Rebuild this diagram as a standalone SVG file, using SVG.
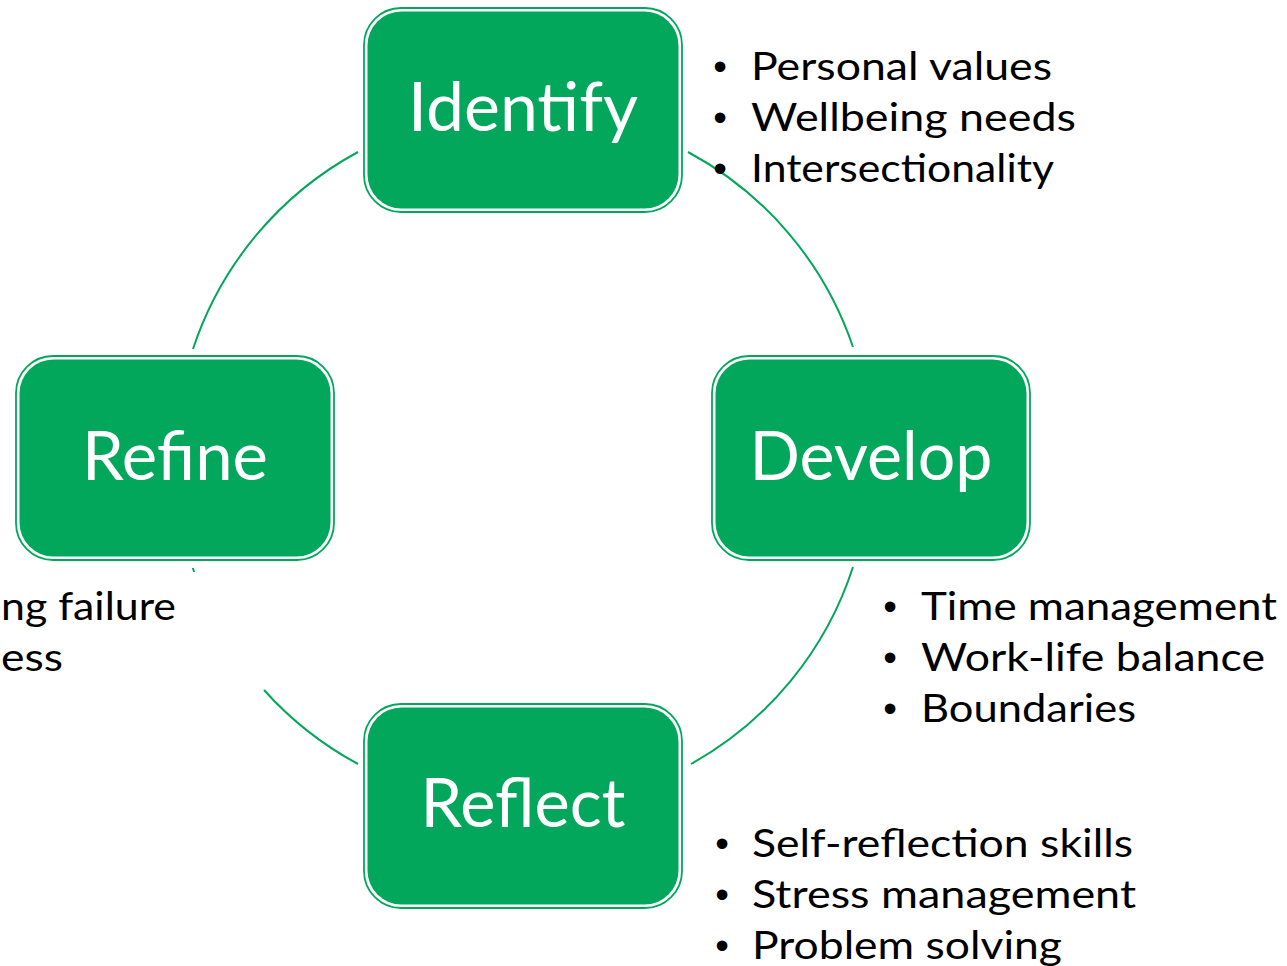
<svg xmlns="http://www.w3.org/2000/svg" width="1287" height="966" viewBox="0 0 1287 966">
<style>
.outer{fill:#ffffff;stroke:#03A75B;stroke-width:1.8}
.inner{fill:#03A75B}
.lbl{font-family:Lato,"Liberation Sans",sans-serif;font-size:68px;fill:#ffffff;text-anchor:middle}
.bt{font-family:Lato,"Noto Sans","Liberation Sans",sans-serif;font-size:39px;fill:#000000}
.bu{font-family:"Liberation Sans",sans-serif;font-size:39px;fill:#000000;text-anchor:middle}
.arc{fill:none;stroke:#03A75B;stroke-width:2}
</style>
<rect width="1287" height="966" fill="#ffffff"/>
<g id="connectors">
<path class="arc" d="M688,152 A348,348 0 0 1 853,347"/>
<path class="arc" d="M853,567 A348,348 0 0 1 691,764"/>
<path class="arc" d="M358,764 A348,348 0 0 1 264,690"/>
<path class="arc" d="M194.2,572 A348,348 0 0 1 192.8,568"/>
<path class="arc" d="M193,349 A348,348 0 0 1 358,152"/>
</g>
<g id="identify">
<rect class="outer" x="364" y="8" width="318" height="204" rx="37"/>
<rect class="inner" x="367.5" y="11.5" width="311" height="197" rx="34"/>
<text class="lbl" x="523" y="131" textLength="230" lengthAdjust="spacingAndGlyphs">Identify</text>
</g>
<g id="develop">
<rect class="outer" x="712" y="356" width="318" height="204" rx="37"/>
<rect class="inner" x="715.5" y="359.5" width="311" height="197" rx="34"/>
<text class="lbl" x="871" y="480" textLength="243" lengthAdjust="spacingAndGlyphs">Develop</text>
</g>
<g id="reflect">
<rect class="outer" x="364" y="704" width="318" height="204" rx="37"/>
<rect class="inner" x="367.5" y="707.5" width="311" height="197" rx="34"/>
<text class="lbl" x="523" y="827" textLength="205" lengthAdjust="spacingAndGlyphs">Reflect</text>
</g>
<g id="refine">
<rect class="outer" x="16" y="356" width="318" height="204" rx="37"/>
<rect class="inner" x="19.5" y="359.5" width="311" height="197" rx="34"/>
<text class="lbl" x="175" y="480" textLength="186" lengthAdjust="spacingAndGlyphs">Refine</text>
</g>
<g id="identify-notes">
<text class="bu" x="720" y="80">•</text>
<text class="bu" x="720" y="131">•</text>
<text class="bu" x="720" y="182">•</text>
<text class="bt" x="751" y="80" textLength="301" lengthAdjust="spacingAndGlyphs">Personal values</text>
<text class="bt" x="751" y="131" textLength="325" lengthAdjust="spacingAndGlyphs">Wellbeing needs</text>
<text class="bt" x="751" y="182" textLength="303" lengthAdjust="spacingAndGlyphs">Intersectionality</text>
</g>
<g id="develop-notes">
<text class="bu" x="890" y="620">•</text>
<text class="bu" x="890" y="671">•</text>
<text class="bu" x="890" y="722">•</text>
<text class="bt" x="921" y="620" textLength="356" lengthAdjust="spacingAndGlyphs">Time management</text>
<text class="bt" x="921" y="671" textLength="344" lengthAdjust="spacingAndGlyphs">Work-life balance</text>
<text class="bt" x="921" y="722" textLength="215" lengthAdjust="spacingAndGlyphs">Boundaries</text>
</g>
<g id="reflect-notes">
<text class="bu" x="722" y="857">•</text>
<text class="bu" x="722" y="908">•</text>
<text class="bu" x="722" y="959">•</text>
<text class="bt" x="752" y="857" textLength="381" lengthAdjust="spacingAndGlyphs">Self-reflection skills</text>
<text class="bt" x="752" y="908" textLength="384" lengthAdjust="spacingAndGlyphs">Stress management</text>
<text class="bt" x="752" y="959" textLength="310" lengthAdjust="spacingAndGlyphs">Problem solving</text>
</g>
<g id="refine-notes">
<text class="bt" x="1" y="620" textLength="175" lengthAdjust="spacingAndGlyphs">ng failure</text>
<text class="bt" x="1" y="671" textLength="62" lengthAdjust="spacingAndGlyphs">ess</text>
</g>
</svg>
